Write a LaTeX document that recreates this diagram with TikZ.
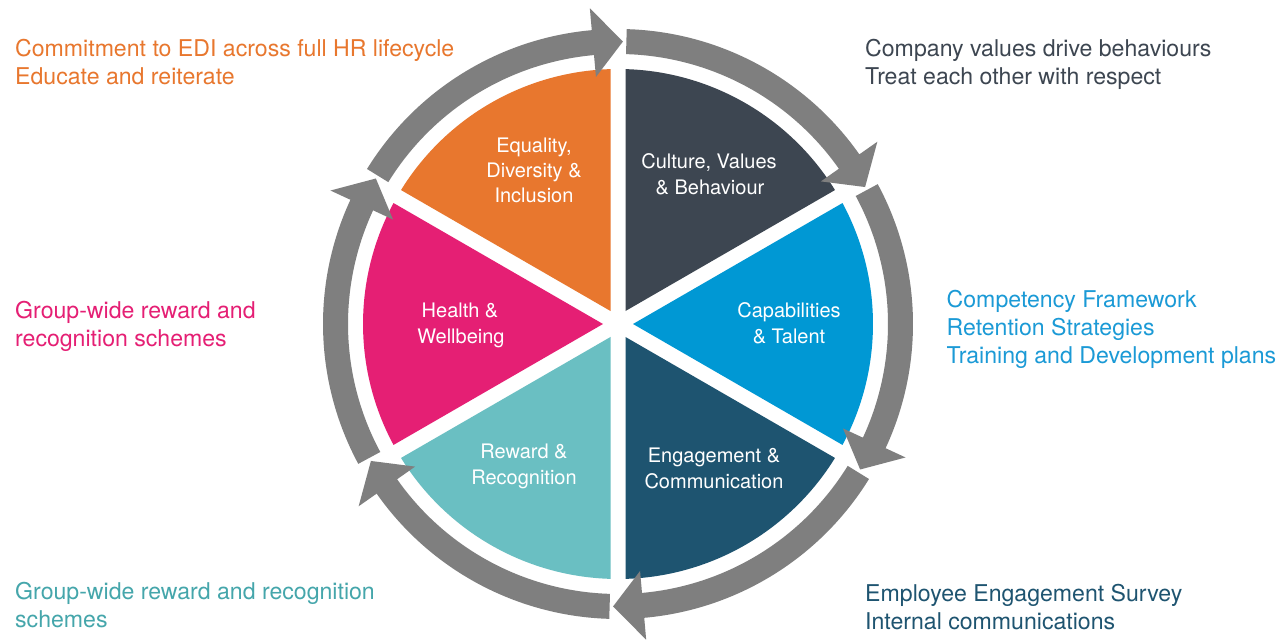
\documentclass[tikz,border=0pt]{standalone}
\usepackage{fontspec}
\setmainfont{TeX Gyre Heros}

\definecolor{ediorange}{HTML}{E8772E}
\definecolor{culturegray}{HTML}{3D4651}
\definecolor{talentblue}{HTML}{0098D4}
\definecolor{engageteal}{HTML}{1E5470}
\definecolor{rewardteal}{HTML}{6ABFC2}
\definecolor{healthpink}{HTML}{E51F74}
\definecolor{ringgray}{HTML}{7F7F7F}
\definecolor{tealtext}{HTML}{45A6AB}
\definecolor{bluetext}{HTML}{1B9AD6}

% one slice of the wheel, between angles #1 and #1+60, 15pt gaps to its neighbours
\newcommand\hrslice[2]{%
  \fill[#2] ({#1+30}:15) -- ({#1+1.686}:255)
    arc[start angle={#1+1.686}, end angle={#1+58.314}, radius=255] -- cycle;}

% one clockwise ring arrow whose tip sits just before the boundary angle #1
\newcommand\hrarrow[1]{%
  \fill[ringgray] ({#1+58.3}:295)
    arc[start angle={#1+58.3}, end angle={#1+5.1}, radius=295]
    -- ({#1+5.1}:317) -- ({#1-1}:282.5) -- ({#1+5.1}:248) -- ({#1+5.1}:270)
    arc[start angle={#1+5.1}, end angle={#1+58.3}, radius=270] -- cycle;}

\begin{document}
\begin{tikzpicture}[x=1pt, y=1pt,
  sidetext/.style={anchor=base west, inner sep=0pt, font=\fontsize{23.1}{27}\selectfont},
  slicetext/.style={anchor=base, inner sep=0pt, text=white, font=\fontsize{20}{24}\selectfont}]
\useasboundingbox[fill=white] (0,0) rectangle (1282,642);

\begin{scope}[shift={(618,318)}]
  % wheel
  \hrslice{30}{culturegray}
  \hrslice{-30}{talentblue}
  \hrslice{-90}{engageteal}
  \hrslice{-150}{rewardteal}
  \hrslice{150}{healthpink}
  \hrslice{90}{ediorange}
  % ring of arrows
  \hrarrow{90}
  \hrarrow{30}
  \hrarrow{-30}
  \hrarrow{-90}
  \hrarrow{-150}
  \hrarrow{150}
\end{scope}

% slice labels
\node[slicetext] (edi1) at (534,489) {Equality,};
\node[slicetext] (edi2) at (534,464) {Diversity \&};
\node[slicetext] (edi3) at (534,439) {Inclusion};
\node[slicetext] (cul1) at (709,473) {Culture, Values};
\node[slicetext] (cul2) at (710,447) {\& Behaviour};
\node[slicetext] (cap1) at (789,324) {Capabilities};
\node[slicetext] (cap2) at (789,298) {\& Talent};
\node[slicetext] (eng1) at (714,179) {Engagement \&};
\node[slicetext] (eng2) at (714,153) {Communication};
\node[slicetext] (rew1) at (524,183) {Reward \&};
\node[slicetext] (rew2) at (524,157) {Recognition};
\node[slicetext] (hea1) at (460,324) {Health \&};
\node[slicetext] (hea2) at (461,298) {Wellbeing};

% notes around the wheel
\node[sidetext, text=ediorange] (n1a) at (15,585.5) {Commitment to EDI across full HR lifecycle};
\node[sidetext, text=ediorange] (n1b) at (15,557) {Educate and reiterate};
\node[sidetext, text=culturegray] (n2a) at (865,585.5) {Company values drive behaviours};
\node[sidetext, text=culturegray] (n2b) at (865,557) {Treat each other with respect};
\node[sidetext, text=bluetext] (n3a) at (946.5,334) {Competency Framework};
\node[sidetext, text=bluetext] (n3b) at (946.5,306) {Retention Strategies};
\node[sidetext, text=bluetext] (n3c) at (946.5,278) {Training and Development plans};
\node[sidetext, text=healthpink] (n4a) at (15,323.5) {Group-wide reward and};
\node[sidetext, text=healthpink] (n4b) at (15,295) {recognition schemes};
\node[sidetext, text=tealtext] (n5a) at (15,42.5) {Group-wide reward and recognition};
\node[sidetext, text=tealtext] (n5b) at (15,14) {schemes};
\node[sidetext, text=engageteal] (n6a) at (865,40.5) {Employee Engagement Survey};
\node[sidetext, text=engageteal] (n6b) at (865,12) {Internal communications};
\end{tikzpicture}
\end{document}
